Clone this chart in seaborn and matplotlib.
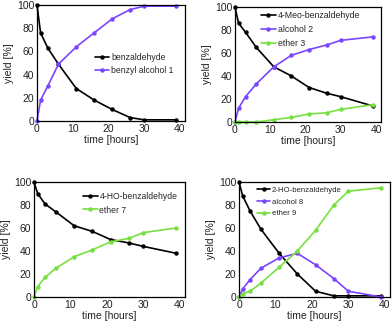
import matplotlib
matplotlib.use("Agg")
import matplotlib.pyplot as plt
import seaborn as sns
import pandas as pd

sns.set_style("white")
plt.rcParams['font.family'] = ['Liberation Sans', 'DejaVu Sans']

time_h = [0, 1, 3, 6, 11, 16, 21, 26, 30, 39]

benzaldehyde = [100, 76, 63, 49, 28, 18, 10, 3, 1, 1]
benzyl_alcohol_1 = [0, 18, 30, 49, 64, 76, 88, 96, 99, 99]

meo_benzaldehyde = [100, 86, 78, 65, 48, 40, 30, 25, 22, 14]
alcohol_2 = [0, 12, 22, 33, 48, 58, 63, 67, 71, 74]
ether_3 = [0, 0, 0, 0, 2, 4, 7, 8, 11, 15]

ho4_benzaldehyde = [100, 90, 81, 74, 62, 57, 50, 47, 44, 38]
ether_7 = [0, 9, 17, 25, 35, 41, 48, 51, 56, 60]

ho2_benzaldehyde = [100, 88, 75, 59, 38, 20, 5, 1, 1, 1]
alcohol_8 = [0, 7, 15, 25, 34, 38, 28, 16, 5, 0]
ether_9 = [0, 3, 5, 12, 26, 40, 58, 80, 92, 95]

BLACK = "#000000"
PURPLE = "#7a45ff"
GREEN = "#77e040"

panels = [
    ([("benzaldehyde", benzaldehyde, BLACK), ("benzyl alcohol 1", benzyl_alcohol_1, PURPLE)],
     [37, 5, 185, 121], (0.39, 0.59), 6.2),
    ([("4-Meo-benzaldehyde", meo_benzaldehyde, BLACK), ("alcohol 2", alcohol_2, PURPLE), ("ether 3", ether_3, GREEN)],
     [235, 7, 381, 122], (0.178, 0.965), 6.3),
    ([("4-HO-benzaldehyde", ho4_benzaldehyde, BLACK), ("ether 7", ether_7, GREEN)],
     [34, 182, 185, 297], (0.325, 0.915), 6.2),
    ([("2-HO-benzaldehyde", ho2_benzaldehyde, BLACK), ("alcohol 8", alcohol_8, PURPLE), ("ether 9", ether_9, GREEN)],
     [239, 182, 390, 297], (0.12, 0.96), 5.6),
]

W, H = 392, 327
fig = plt.figure(figsize=(W / 100, H / 100), dpi=100)

for series, (x0, y0, x1, y1), anchor, lfs in panels:
    ax = fig.add_axes([x0 / W, 1 - y1 / H, (x1 - x0) / W, (y1 - y0) / H])
    for name, vals, col in series:
        df = pd.DataFrame({"time": time_h, "yield": vals})
        sns.lineplot(data=df, x="time", y="yield", ax=ax, color=col, marker="o",
                     markersize=3.2, markeredgewidth=0, linewidth=1.2, label=name,
                     clip_on=False)
    ax.set_xlim(0, 41.4)
    ax.set_ylim(0, 100)
    ax.set_xticks([0, 10, 20, 30, 40])
    ax.set_yticks([0, 20, 40, 60, 80, 100])
    ax.tick_params(labelsize=7.5, length=0, pad=2, labelcolor="#222222")
    ax.set_xlabel("time [hours]", fontsize=7.5, labelpad=1, color="#222222")
    ax.set_ylabel("yield [%]", fontsize=7.5, labelpad=2, color="#222222")
    for s in ax.spines.values():
        s.set_color("black")
        s.set_linewidth(0.9)
    ax.legend(frameon=False, fontsize=lfs, handlelength=1.7, handletextpad=0.2,
              labelspacing=0.55, borderaxespad=0, borderpad=0,
              loc="upper left", bbox_to_anchor=anchor)

fig.savefig("out.png", dpi=100)
